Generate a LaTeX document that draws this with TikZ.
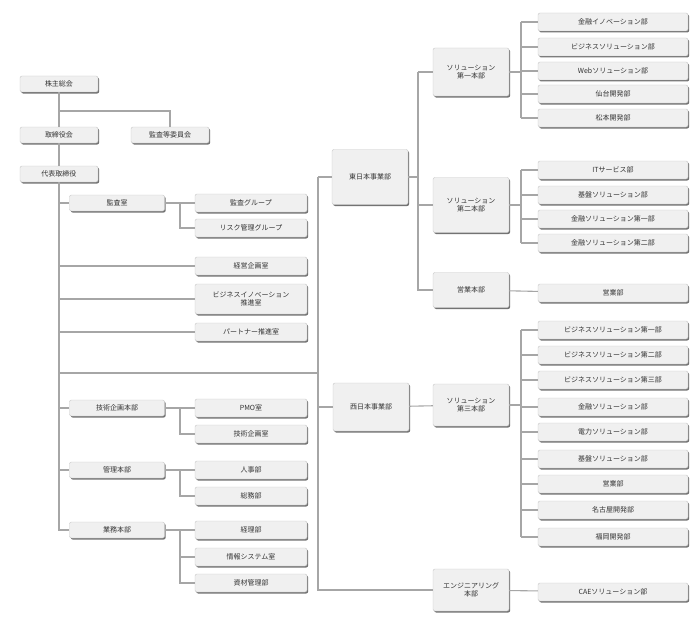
\documentclass[tikz,border=0pt]{standalone}
\usepackage{fontspec}
\setmainfont{Noto Sans CJK JP}
\usetikzlibrary{shadows}

\begin{document}
\begin{tikzpicture}[x=1pt,y=-1pt,
  box/.style={draw=gray!45,fill=gray!12,rounded corners=2pt,font=\fontsize{7}{8}\selectfont,
    text=black!80,inner sep=1pt,align=center,
    drop shadow={shadow xshift=1.2pt,shadow yshift=-1.5pt,fill=black!55,opacity=1}},
  sbox/.style={box,minimum width=78pt,minimum height=16pt},
  mbox/.style={box,minimum width=95pt,minimum height=16pt},
  lbox/.style={box,minimum width=112pt,minimum height=18pt},
  rbox/.style={box,minimum width=150pt,minimum height=18pt},
  hbox/.style={box,minimum width=76pt,minimum height=48pt},
  link/.style={draw=gray!70,line width=1.1pt}]
\useasboundingbox (0,0) rectangle (699,618);

% top of the company
\node[sbox] (kabu) at (59,84) {株主総会};
\node[sbox] (tori) at (59,135) {取締役会};
\node[sbox] (kansa) at (170,135) {監査等委員会};
\node[sbox] (daihyo) at (59,174) {代表取締役};

% staff offices
\node[mbox] (kansashitsu) at (117,203) {監査室};
\node[lbox] (kgr) at (251,203) {監査グループ};
\node[lbox] (risk) at (251,228) {リスク管理グループ};
\node[lbox] (keiei) at (251,266) {経営企画室};
\node[lbox,minimum height=30pt] (biz) at (251,299) {ビジネスイノベーション\\推進室};
\node[lbox] (partner) at (251,332) {パートナー推進室};

\node[mbox] (gijutsu) at (117,408) {技術企画本部};
\node[lbox] (pmo) at (251,408) {PMO室};
\node[lbox] (gks) at (251,434) {技術企画室};
\node[mbox] (kanri) at (117,470) {管理本部};
\node[lbox] (jinji) at (251,470) {人事部};
\node[lbox] (soumu) at (251,496) {総務部};
\node[mbox] (gyomu) at (117,530) {業務本部};
\node[lbox] (keiri) at (251,530) {経理部};
\node[lbox] (joho) at (251,557) {情報システム室};
\node[lbox] (shizai) at (251,583) {資材管理部};

% business divisions
\node[hbox,minimum height=55pt] (east) at (370,177) {東日本事業部};
\node[hbox] (sol1) at (471,72) {ソリューション\\第一本部};
\node[hbox,minimum height=55pt] (sol2) at (471,205) {ソリューション\\第二本部};
\node[hbox,minimum height=35pt] (eigyo) at (471,290) {営業本部};
\node[hbox] (west) at (371,407) {西日本事業部};
\node[hbox,minimum height=42pt] (sol3) at (471,405) {ソリューション\\第三本部};
\node[hbox,minimum height=42pt] (eng) at (471,590) {エンジニアリング\\本部};

\node[rbox] (a1) at (613,22) {金融イノベーション部};
\node[rbox] (a2) at (613,47) {ビジネスソリューション部};
\node[rbox] (a3) at (613,71) {Webソリューション部};
\node[rbox] (a4) at (613,94) {仙台開発部};
\node[rbox] (a5) at (613,118) {松本開発部};
\node[rbox] (b1) at (613,170) {ITサービス部};
\node[rbox] (b2) at (613,195) {基盤ソリューション部};
\node[rbox] (b3) at (613,219) {金融ソリューション第一部};
\node[rbox] (b4) at (613,243) {金融ソリューション第二部};
\node[rbox] (c1) at (613,293) {営業部};
\node[rbox] (d1) at (613,330) {ビジネスソリューション第一部};
\node[rbox] (d2) at (613,355) {ビジネスソリューション第二部};
\node[rbox] (d3) at (613,380) {ビジネスソリューション第三部};
\node[rbox] (d4) at (613,407) {金融ソリューション部};
\node[rbox] (d5) at (613,432) {電力ソリューション部};
\node[rbox] (d6) at (613,459) {基盤ソリューション部};
\node[rbox] (d7) at (613,484) {営業部};
\node[rbox] (d8) at (613,510) {名古屋開発部};
\node[rbox] (d9) at (613,537) {福岡開発部};
\node[rbox] (e1) at (613,592) {CAEソリューション部};

\coordinate (split) at (318,373);

% connectors
\begin{scope}[link]
\draw (kabu) -- (tori) (tori) -- (daihyo);
\draw (59,111) -| (kansa);
\draw (daihyo.south) -- (59,530) -- (gyomu);
\foreach \n in {kansashitsu,keiei,biz,partner,gijutsu,kanri}
  \draw (59,0 |- \n) -- (\n);
\draw (59,373) -- (split);
\draw (kansashitsu) -- (kgr);
\draw (180,203) |- (risk);
\draw (gijutsu) -- (pmo); \draw (180,408) |- (gks);
\draw (kanri) -- (jinji); \draw (180,470) |- (soumu);
\draw (gyomu) -- (keiri); \draw (180,530) |- (joho); \draw (180,530) |- (shizai);
\draw (318,177) -- (east) (318,177) -- (318,590) -- (eng);
\draw (318,407) -- (west);
\draw (west) -- (sol3);
\draw (east) -- (418,177);
\draw (418,72) -- (sol1) (418,72) -- (418,290) -- (eigyo);
\draw (418,205) -- (sol2);
\foreach \n in {a1,a2,a3,a4,a5} \draw (521,0 |- \n) -- (\n);
\draw (521,22) -- (521,118) (sol1) -- (521,72);
\foreach \n in {b1,b2,b3,b4} \draw (521,0 |- \n) -- (\n);
\draw (521,170) -- (521,243) (sol2) -- (521,205);
\draw (eigyo) -- (c1);
\foreach \n in {d1,d2,d3,d4,d5,d6,d7,d8,d9} \draw (521,0 |- \n) -- (\n);
\draw (521,330) -- (521,537) (sol3) -- (521,405);
\draw (eng) -- (e1);
\end{scope}
\end{tikzpicture}
\end{document}
